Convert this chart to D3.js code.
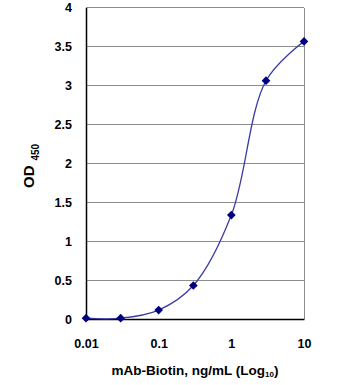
<!DOCTYPE html>
<html><head><meta charset="utf-8">
<script src="https://cdn.jsdelivr.net/npm/d3@7"></script>
<style>body{margin:0;background:#fff}svg{display:block}text{font-family:"Liberation Sans",Arial,sans-serif}</style>
</head><body>
<svg id="c" width="356" height="385"></svg>
<script>
const concentrations = [0.01, 0.03, 0.1, 0.3, 1, 3, 10];
const odValues = [0.01, 0.01, 0.115, 0.43, 1.335, 3.06, 3.565];
const yTicks = [0, 0.5, 1, 1.5, 2, 2.5, 3, 3.5, 4];
const xTicks = [0.01, 0.1, 1, 10];
const xTickLabels = ["0.01", "0.1", "1", "10"];

const svg = d3.select("#c");
const L = 86, R = 304, T = 7.5, B = 319;
const x = d3.scaleLog().domain([0.01, 10]).range([L, R]);
const y = d3.scaleLinear().domain([0, 4]).range([B, T]);

// gridlines
svg.append("g").selectAll("line").data(yTicks.filter(d => d > 0)).join("line")
  .attr("x1", L).attr("x2", R).attr("y1", d => y(d)).attr("y2", d => y(d))
  .attr("stroke", "#8c8c8c").attr("stroke-width", 1).attr("shape-rendering", "crispEdges");
svg.append("line").attr("x1", R).attr("x2", R).attr("y1", T).attr("y2", B)
  .attr("stroke", "#8c8c8c").attr("shape-rendering", "crispEdges");

// axes
const yAxis = svg.append("g").attr("transform", `translate(${L},0)`)
  .call(d3.axisLeft(y).tickValues(yTicks).tickSize(0).tickPadding(14).tickFormat(d => d));
const xAxis = svg.append("g").attr("transform", `translate(0,${B})`)
  .call(d3.axisBottom(x).tickValues(xTicks).tickSize(0).tickPadding(20).tickFormat((d, i) => xTickLabels[i]));
[yAxis, xAxis].forEach(g => {
  g.select(".domain").attr("stroke", "#000").attr("stroke-width", 1.5);
  g.selectAll("text").attr("font-size", 12.5).attr("font-weight", "bold").attr("fill", "#000");
});

// curve
const line = d3.line().x((d, i) => x(concentrations[i])).y(d => y(d)).curve(d3.curveCatmullRom.alpha(0.5));
svg.append("path").datum(odValues).attr("d", line)
  .attr("fill", "none").attr("stroke", "#3b3ba3").attr("stroke-width", 1.3);

// markers
svg.append("g").selectAll("path").data(odValues).join("path")
  .attr("d", d3.symbol().type(d3.symbolSquare).size(38))
  .attr("transform", (d, i) => `translate(${x(concentrations[i])},${y(d)}) rotate(45)`)
  .attr("fill", "#000080");

// y title
const yt = svg.append("text").attr("transform", "translate(34,188) rotate(-90)")
  .attr("font-weight", "bold").attr("fill", "#000");
yt.append("tspan").attr("font-size", 15).text("OD");
yt.append("tspan").attr("font-size", 10).attr("dx", 5).attr("dy", 5).text("450");

// x title
const xt = svg.append("text").attr("x", 195).attr("y", 375).attr("text-anchor", "middle")
  .attr("font-size", 13.5).attr("font-weight", "bold").attr("fill", "#000");
xt.append("tspan").text("mAb-Biotin, ng/mL (Log");
xt.append("tspan").attr("font-size", 8).attr("dy", 2).text("10");
xt.append("tspan").attr("dy", -2).text(")");
</script>
</body></html>
